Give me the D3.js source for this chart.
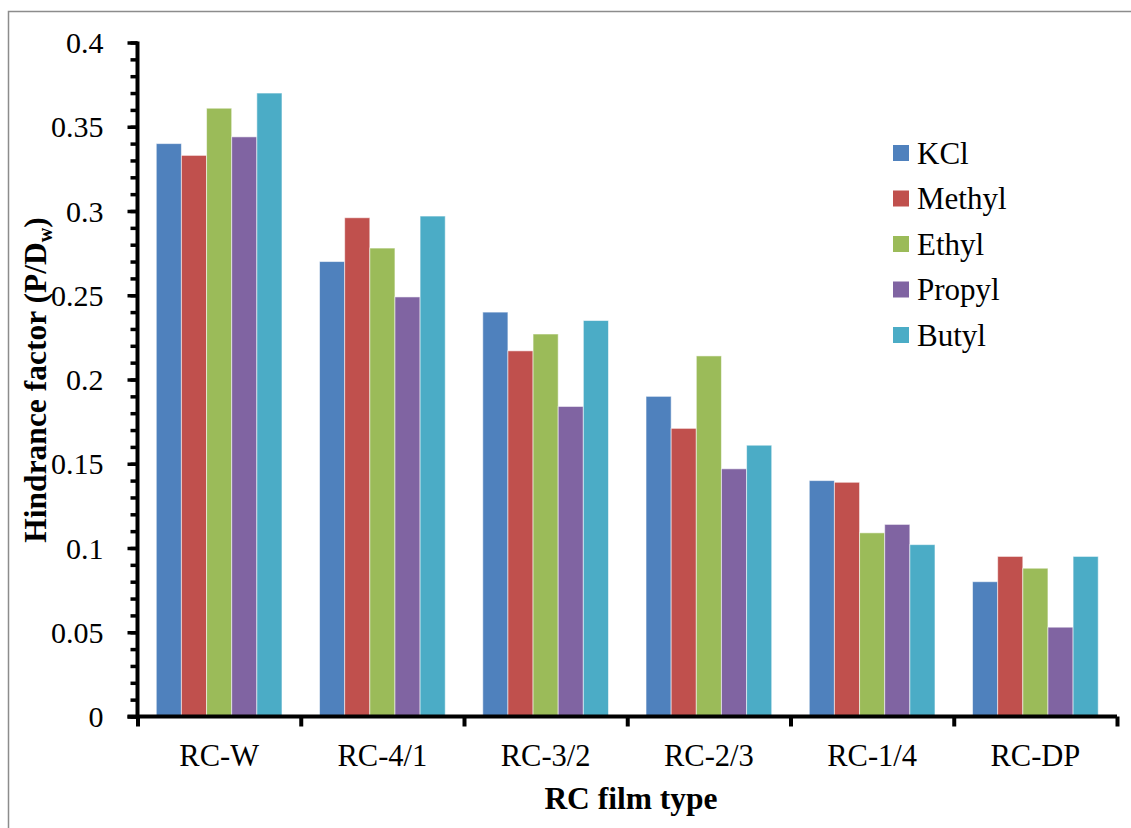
<!DOCTYPE html>
<html>
<head>
<meta charset="utf-8">
<script src="https://cdn.jsdelivr.net/npm/d3@7"></script>
<style>
  body { margin: 0; background: #fff; }
  svg text { font-family: "Liberation Serif", "Times New Roman", serif; fill: #000; }
</style>
</head>
<body>
<div id="chart"></div>
<script>
// categories and series
const categories = ["RC-W", "RC-4/1", "RC-3/2", "RC-2/3", "RC-1/4", "RC-DP"];
const seriesNames = ["KCl", "Methyl", "Ethyl", "Propyl", "Butyl"];
const kcl    = [0.340, 0.270, 0.240, 0.190, 0.140, 0.080];
const methyl = [0.333, 0.296, 0.217, 0.171, 0.139, 0.095];
const ethyl  = [0.361, 0.278, 0.227, 0.214, 0.109, 0.088];
const propyl = [0.344, 0.249, 0.184, 0.147, 0.114, 0.053];
const butyl  = [0.370, 0.297, 0.235, 0.161, 0.102, 0.095];
const yTicks = [0, 0.05, 0.1, 0.15, 0.2, 0.25, 0.3, 0.35, 0.4];
const yTickLabels = ["0", "0.05", "0.1", "0.15", "0.2", "0.25", "0.3", "0.35", "0.4"];
const colors = ["#4F81BD", "#C0504D", "#9BBB59", "#8064A2", "#4BACC6"];

const series = [kcl, methyl, ethyl, propyl, butyl];

const W = 1131, H = 828;
const plotL = 137.5, plotR = 1117, plotT = 42.5, plotB = 716.5;
const serif = "Liberation Serif, Times New Roman, serif";

const svg = d3.select("#chart").append("svg")
    .attr("width", W)
    .attr("height", H)
    .attr("font-family", serif);

// outer frame (partly cropped in the original)
svg.append("rect")
    .attr("x", 8.5).attr("y", 11.5)
    .attr("width", 1300).attr("height", 1000)
    .attr("fill", "none")
    .attr("stroke", "#8c8c8c")
    .attr("stroke-width", 1.5);

// scales
const x = d3.scaleBand().domain(categories).range([plotL, plotR]).paddingInner(0.23).paddingOuter(0.115);
const xEdge = d3.scaleLinear().domain([0, categories.length]).range([plotL, plotR]);
const xInner = d3.scaleBand().domain(seriesNames).range([0, x.bandwidth()]);
const y = d3.scaleLinear().domain([0, 0.4]).range([plotB, plotT]);

// bars
const groups = svg.selectAll(".group")
    .data(categories)
    .enter().append("g")
    .attr("class", "group")
    .attr("transform", function(d) { return "translate(" + x(d) + ",0)"; });

groups.selectAll("rect")
    .data(function(d, i) { return seriesNames.map(function(s, j) { return {name: s, j: j, v: series[j][i]}; }); })
    .enter().append("rect")
    .attr("x", function(d) { return xInner(d.name); })
    .attr("width", xInner.bandwidth())
    .attr("y", function(d) { return y(d.v); })
    .attr("height", function(d) { return plotB - y(d.v); })
    .attr("fill", function(d) { return colors[d.j]; })
    .attr("stroke", "rgba(255,255,255,0.55)")
    .attr("stroke-width", 1);

// y axis: minor ticks
const minor = d3.range(0, 0.4001, 0.01);
svg.append("g")
    .attr("transform", "translate(" + plotL + ",0)")
    .call(d3.axisLeft(y).tickValues(minor).tickSize(7).tickFormat(""))
    .call(function(g) {
        g.select(".domain").remove();
        g.selectAll("line").attr("stroke", "#000").attr("stroke-width", 3.5);
    });

// y axis: major ticks and labels
svg.append("g")
    .attr("class", "y axis")
    .attr("transform", "translate(" + plotL + ",0)")
    .call(d3.axisLeft(y).tickValues(yTicks).tickSize(10).tickPadding(24)
        .tickFormat(function(d, i) { return yTickLabels[i]; }))
    .call(function(g) {
        g.attr("font-family", serif);
        g.select(".domain").attr("stroke", "#000").attr("stroke-width", 4)
            .attr("d", "M0," + (plotT - 1) + "V" + (plotB + 2));
        g.selectAll("line").attr("stroke", "#000").attr("stroke-width", 3.5);
        g.selectAll("text").attr("font-size", 30).attr("dy", "0.34em");
    });

// x axis with boundary ticks
svg.append("g")
    .attr("class", "x axis")
    .attr("transform", "translate(0," + plotB + ")")
    .call(d3.axisBottom(xEdge).tickValues(d3.range(categories.length + 1)).tickSize(10).tickSizeOuter(0).tickFormat(""))
    .call(function(g) {
        g.select(".domain").attr("stroke", "#000").attr("stroke-width", 4)
            .attr("d", "M" + (plotL - 10) + ",0H" + plotR);
        g.selectAll("line").attr("stroke", "#000").attr("stroke-width", 4);
    });

svg.selectAll(".xlabel")
    .data(categories)
    .enter().append("text")
    .attr("class", "xlabel")
    .attr("x", function(d) { return x(d) + x.bandwidth() / 2; })
    .attr("y", 766)
    .attr("text-anchor", "middle")
    .attr("font-size", 30.5)
    .text(function(d) { return d; });

// axis titles
svg.append("text")
    .attr("x", 631)
    .attr("y", 809)
    .attr("text-anchor", "middle")
    .attr("font-size", 31.5)
    .attr("font-weight", "bold")
    .text("RC film type");

const yt = svg.append("text")
    .attr("transform", "translate(46,380) rotate(-90)")
    .attr("text-anchor", "middle")
    .attr("font-size", 31.5)
    .attr("font-weight", "bold");
yt.append("tspan").text("Hindrance factor (P/D");
yt.append("tspan").attr("font-size", 20).attr("dy", 6).text("w");
yt.append("tspan").attr("dy", -6).text(")");

// legend
const legend = svg.selectAll(".legend")
    .data(seriesNames)
    .enter().append("g")
    .attr("class", "legend")
    .attr("transform", function(d, i) { return "translate(893," + (145 + i * 45.5) + ")"; });

legend.append("rect")
    .attr("width", 16).attr("height", 16)
    .attr("fill", function(d, i) { return colors[i]; });

legend.append("text")
    .attr("x", 24)
    .attr("y", 18.5)
    .attr("font-size", 31)
    .text(function(d) { return d; });
</script>
</body>
</html>
